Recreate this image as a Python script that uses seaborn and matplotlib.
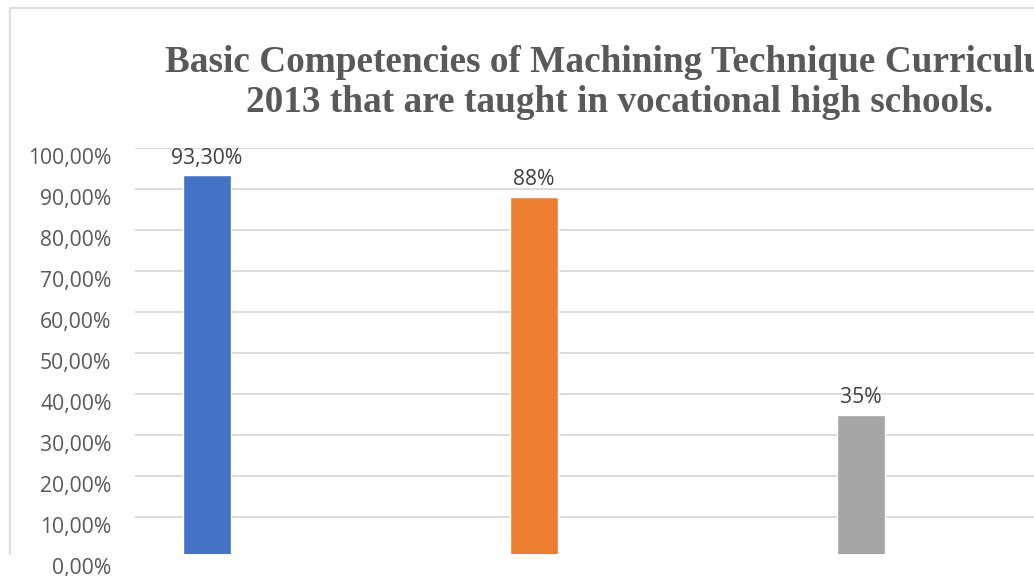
import matplotlib
matplotlib.use("Agg")
import matplotlib.pyplot as plt
import matplotlib.transforms as mtransforms
from matplotlib.patches import Rectangle
from matplotlib.lines import Line2D
import seaborn as sns
import pandas as pd

categories = ["A", "B", "C"]
values = [0.933, 0.88, 0.35]
value_labels = ["93,30%", "88%", "35%"]
tick_values = [0.0, 0.1, 0.2, 0.3, 0.4, 0.5, 0.6, 0.7, 0.8, 0.9, 1.0]
tick_labels = ["0,00%", "10,00%", "20,00%", "30,00%", "40,00%", "50,00%",
               "60,00%", "70,00%", "80,00%", "90,00%", "100,00%"]
colors = ["#4472C4", "#ED7D31", "#A5A5A5"]
title_line1 = "Basic Competencies of Machining Technique Curriculum"
title_line2 = "2013 that are taught in vocational high schools."

sns.set_theme(style="white")
plt.rcParams['font.family'] = ['Open Sans', 'DejaVu Sans']

W, H = 1034, 576
fig = plt.figure(figsize=(W / 100, H / 100), dpi=100)

# axes placement in pixels
ax_left, ax_right = 135, 1034
ax_top, ax_bottom = 148, 558
ax = fig.add_axes([ax_left / W, 1 - ax_bottom / H, (ax_right - ax_left) / W, (ax_bottom - ax_top) / H])

df = pd.DataFrame({"cat": categories, "val": values})
sns.barplot(data=df, x="cat", y="val", hue="cat", palette=colors, width=0.144,
            legend=False, ax=ax, saturation=1, zorder=3)

ax.set_xlim((135 - 207) / 327, (1034 - 207) / 327)
ax.set_ylim(0, 1)
ax.set_yticks(tick_values)
ax.set_yticklabels(tick_labels, fontsize=15.2, color="#595959")
ax.set_xticks([])
ax.set_xlabel("")
ax.set_ylabel("")
ax.yaxis.grid(True, color="#d9d9d9", linewidth=1.3, zorder=0)
ax.set_axisbelow(True)
for s in ax.spines.values():
    s.set_visible(False)
ax.tick_params(axis="y", length=0, pad=17)
offset = mtransforms.ScaledTranslation(0, -8 / 100, fig.dpi_scale_trans)
for lbl in ax.get_yticklabels():
    lbl.set_transform(lbl.get_transform() + offset)

for i, (v, t) in enumerate(zip(values, value_labels)):
    ax.annotate(t, xy=(i, v), xytext=(0, 5), textcoords="offset points",
                ha="center", va="bottom", fontsize=15.2, color="#404040")

# chart frame (cropped)
fig.add_artist(Line2D([10 / W, 10 / W], [1 - 8 / H, 1 - 554 / H], color="#d9d9d9", lw=1.3,
                      transform=fig.transFigure))
fig.add_artist(Line2D([10 / W, 1.0], [1 - 8 / H, 1 - 8 / H], color="#d9d9d9", lw=1.3,
                      transform=fig.transFigure))
# crop bottom of chart
fig.add_artist(Rectangle((120 / W, 0), 1 - 120 / W, 1 - 554 / H, transform=fig.transFigure,
                         facecolor="white", edgecolor="none", zorder=5))

fig.text(620 / W, 1 - 62 / H, title_line1, ha="center", va="center", fontsize=26.8,
         fontweight="bold", color="#595959", family="Liberation Serif")
fig.text(620 / W, 1 - 102 / H, title_line2, ha="center", va="center", fontsize=26.8,
         fontweight="bold", color="#595959", family="Liberation Serif")

fig.savefig("out.png", dpi=100)
